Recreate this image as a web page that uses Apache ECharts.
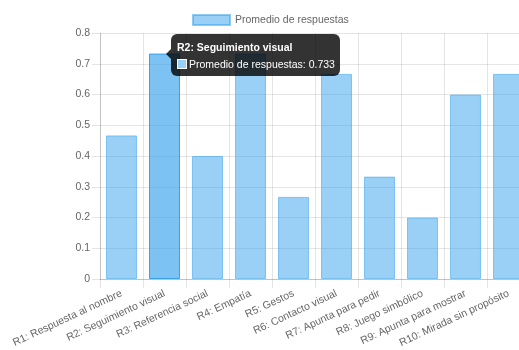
<!DOCTYPE html>
<html>
<head>
<meta charset="utf-8">
<style>
  html, body { margin: 0; padding: 0; background: #fff; overflow: hidden; }
  #chart { width: 519px; height: 350px; }
</style>
<script src="https://cdn.jsdelivr.net/npm/echarts@6/dist/echarts.min.js"></script>
</head>
<body>
<div id="chart"></div>
<script>
// Average score per item of the questionnaire
const categories = [
  'R1: Respuesta al nombre',
  'R2: Seguimiento visual',
  'R3: Referencia social',
  'R4: Empatía',
  'R5: Gestos',
  'R6: Contacto visual',
  'R7: Apunta para pedir',
  'R8: Juego simbólico',
  'R9: Apunta para mostrar',
  'R10: Mirada sin propósito'
];
const promedio = [0.467, 0.733, 0.4, 0.733, 0.267, 0.667, 0.333, 0.2, 0.6, 0.667];
const seriesName = 'Promedio de respuestas';
const yTicks = { min: 0, max: 0.8, step: 0.1 };
const activeIndex = 1;

const FONT = '"Helvetica Neue", Helvetica, Arial, sans-serif';
const FS = 10.5;
const FILL = 'rgba(54,162,235,0.5)';
const EDGE = 'rgba(54,162,235,0.55)';
const FILL_HOVER = 'rgba(54,162,235,0.65)';
const EDGE_HOVER = 'rgba(54,162,235,1)';
const GRID = 'rgba(0,0,0,0.1)';

const chart = echarts.init(document.getElementById('chart'), null, { renderer: 'canvas' });

const barData = promedio.map((v, i) => i === activeIndex
  ? { value: v, itemStyle: { color: FILL_HOVER, borderColor: EDGE_HOVER } }
  : v);

chart.setOption({
  animation: false,
  textStyle: { fontFamily: FONT },
  legend: {
    data: [seriesName],
    left: 192,
    top: 14,
    padding: 0,
    icon: 'rect',
    itemWidth: 37,
    itemHeight: 10,
    itemGap: 10,
    textStyle: { color: '#666', fontSize: FS, fontFamily: FONT },
    selectedMode: false
  },
  grid: { left: 100, top: 33, width: 430, height: 246, containLabel: false, outerBoundsMode: 'none' },
  tooltip: {
    trigger: 'item',
    alwaysShowContent: true,
    triggerOn: 'none',
    backgroundColor: 'rgba(0,0,0,0.8)',
    borderWidth: 0,
    borderRadius: 6,
    padding: [6, 5, 5, 6],
    extraCssText: 'box-shadow:none;overflow:visible;',
    transitionDuration: 0,
    textStyle: { color: '#fff', fontSize: FS, fontFamily: FONT },
    position: function (point, params, dom, rect, size) {
      const p = chart.convertToPixel({ seriesIndex: 0 }, [params.dataIndex, promedio[params.dataIndex]]);
      return [p[0] + 6, p[1] - 20];
    },
    formatter: function (params) {
      return '<div style="position:relative;line-height:14px;">' +
        '<div style="position:absolute;left:-11px;top:9px;width:0;height:0;border-top:5px solid transparent;border-bottom:5px solid transparent;border-right:5px solid rgba(0,0,0,0.8);"></div>' +
        '<div style="font-weight:bold;margin-bottom:3px;">' + params.name + '</div>' +
        '<div style="display:flex;align-items:center;">' +
        '<span style="display:inline-block;width:10px;height:10px;box-sizing:border-box;background:#9ad0f5;border:1px solid #fff;margin-right:2px;"></span>' +
        seriesName + ': ' + params.value + '</div></div>';
    }
  },
  xAxis: {
    type: 'category',
    data: categories,
    boundaryGap: true,
    axisLine: { show: true, lineStyle: { color: 'rgba(0,0,0,0.15)', width: 1 } },
    axisTick: { show: true, length: 9, lineStyle: { color: GRID } },
    splitLine: { show: true, lineStyle: { color: GRID, width: 1 } },
    axisLabel: {
      rotate: 25,
      margin: 14,
      interval: 0,
      hideOverlap: false,
      color: '#666',
      fontSize: FS,
      fontFamily: FONT
    }
  },
  yAxis: {
    type: 'value',
    min: yTicks.min,
    max: yTicks.max,
    interval: yTicks.step,
    axisLine: { show: true, lineStyle: { color: 'rgba(0,0,0,0.15)', width: 1 } },
    axisTick: { show: true, length: 8, lineStyle: { color: GRID } },
    splitLine: { show: true, lineStyle: { color: GRID, width: 1 } },
    axisLabel: {
      margin: 10,
      color: '#666',
      fontSize: FS,
      fontFamily: FONT,
      formatter: v => String(+v.toFixed(1))
    }
  },
  series: [{
    name: seriesName,
    type: 'bar',
    data: barData,
    barCategoryGap: '28%',
    itemStyle: { color: FILL, borderColor: EDGE, borderWidth: 1 },
    emphasis: { disabled: true }
  }]
});

chart.dispatchAction({ type: 'showTip', seriesIndex: 0, dataIndex: activeIndex });
</script>
</body>
</html>
